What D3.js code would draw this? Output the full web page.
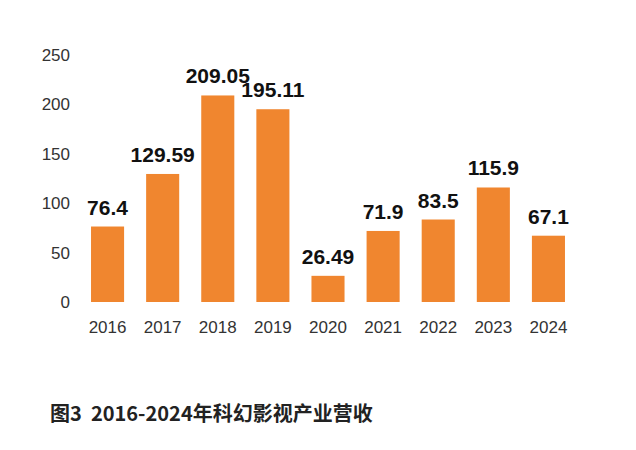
<!DOCTYPE html>
<html><head><meta charset="utf-8">
<script src="https://cdn.jsdelivr.net/npm/d3@7"></script>
<style>body{margin:0;background:#fff}</style>
</head><body>
<svg id="chart" width="636" height="450"></svg>
<script>
var years = ["2016","2017","2018","2019","2020","2021","2022","2023","2024"];
var revenue = [76.4, 129.59, 209.05, 195.11, 26.49, 71.9, 83.5, 115.9, 67.1];
var yTicks = [0, 50, 100, 150, 200, 250];

var svg = d3.select("#chart");
var x = d3.scaleBand().domain(years).range([80, 576]).paddingInner(0.4).paddingOuter(0.2);
var y = d3.scaleLinear().domain([0, 250]).range([302, 55]);

// y tick labels, no axis line
svg.append("g").selectAll("text").data(yTicks).enter().append("text")
  .attr("x", 70).attr("y", function(d){ return y(d); }).attr("dy", "0.35em")
  .attr("text-anchor", "end").attr("font-family", "Liberation Sans, Arial").attr("font-size", 17)
  .attr("fill", "#333").text(function(d){ return d; });

svg.append("g").selectAll("rect").data(revenue).enter().append("rect")
  .attr("x", function(d, i){ return x(years[i]); })
  .attr("y", function(d){ return y(d); })
  .attr("width", x.bandwidth())
  .attr("height", function(d){ return y(0) - y(d); })
  .attr("fill", "#F0862F");

svg.append("g").selectAll("text").data(revenue).enter().append("text")
  .attr("x", function(d, i){ return x(years[i]) + x.bandwidth() / 2; })
  .attr("y", function(d){ return y(d) - 12; })
  .attr("text-anchor", "middle").attr("font-family", "Liberation Sans, Arial")
  .attr("font-weight", "bold").attr("font-size", 21).attr("fill", "#111")
  .text(function(d){ return d; });

svg.append("g").selectAll("text").data(years).enter().append("text")
  .attr("x", function(d){ return x(d) + x.bandwidth() / 2; })
  .attr("y", 333).attr("text-anchor", "middle")
  .attr("font-family", "Liberation Sans, Arial").attr("font-size", 17).attr("fill", "#333")
  .text(function(d){ return d; });

svg.append("text").attr("x", 50).attr("y", 421)
  .attr("font-family", "Noto Sans CJK SC").attr("font-weight", "bold").attr("font-size", 20)
  .attr("fill", "#222").attr("xml:space", "preserve")
  .text("图3  2016-2024年科幻影视产业营收");
</script>
</body></html>
